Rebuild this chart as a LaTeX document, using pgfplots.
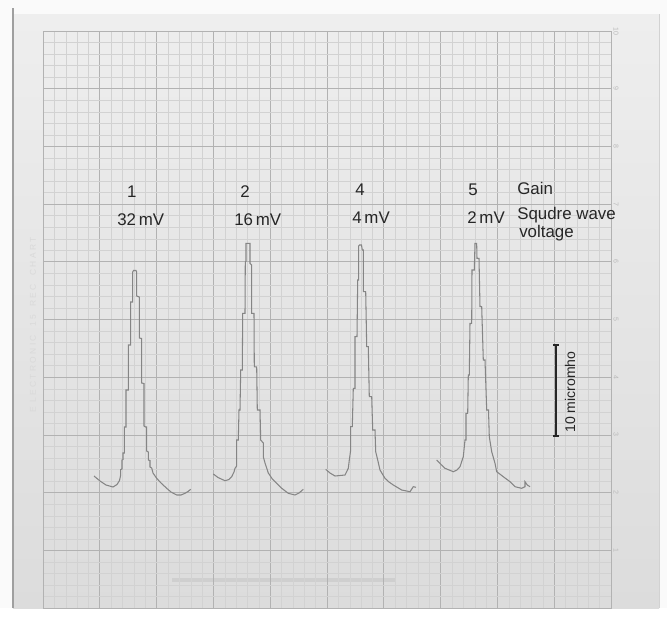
\documentclass[border=0pt]{standalone}
\usepackage{fontspec}
\setmainfont{Liberation Sans}
\usepackage{pgfplots}
\pgfplotsset{compat=1.18}
\definecolor{majorgrid}{HTML}{B2B2B2}
\definecolor{minorgrid}{HTML}{D2D2D2}
\definecolor{trace}{HTML}{858585}
\definecolor{ink}{HTML}{262626}
\definecolor{papertop}{HTML}{EEEEEE}
\definecolor{paperbot}{HTML}{DCDCDC}
\pgfplotsset{common/.style={
  scale only axis, width=14.2cm, height=14.425cm,
  xmin=43, xmax=611, ymin=31, ymax=608, y dir=reverse,
  clip=false}}
\begin{document}
\begin{tikzpicture}
\begin{axis}[common, hide axis]
\fill[color=white!96!gray] (axis cs:0,0) rectangle (axis cs:667,608);
\shade[top color=papertop, bottom color=paperbot] (axis cs:13,14) rectangle (axis cs:659,608);
\draw[gray!75, line width=0.8pt] (axis cs:13,8) -- (axis cs:13,608);
\draw[gray!35, line width=0.5pt] (axis cs:659,14) -- (axis cs:659,608);
\draw[gray!45, line width=3pt, opacity=0.6] (axis cs:172,580) -- (axis cs:395,580);
\end{axis}
\begin{axis}[
  common,
  xtick={43,99.8,156.6,213.4,270.2,327,383.8,440.6,497.4,554.2,611},
  ytick={31,88.7,146.4,204.1,261.8,319.5,377.2,434.9,492.6,550.3,608},
  minor tick num=4,
  grid=both,
  major grid style={draw=majorgrid, line width=0.5pt},
  minor grid style={draw=minorgrid, line width=0.25pt},
  xticklabels={}, yticklabels={}, tick style={draw=none},
  axis line style={draw=majorgrid, line width=0.6pt},
]
% peak 1
\addplot[trace, line width=0.75pt] coordinates {
(94,476) (100,481) (106,485) (113,487) (117,484.5) (119.5,480.5) (120.7,475) (120.7,469.5) (122,469) (122,460) (123,459.5) (123,453) (124.3,453) (124.3,427) (126,427) (126,390) (128.3,390) (128.3,345) (130.7,345) (130.7,302) (132.7,302) (132.7,272) (133.5,270.5) (136,270.5) (136.7,272) (136.7,296) (139.3,297) (139.3,338) (141.7,338.5) (141.7,383) (144,383.5) (144,426) (145.5,427) (146.7,427) (146.7,451) (148.3,452) (148.3,460) (150,460.5) (150,467) (151.7,468) (153,473) (156.7,478.3) (161,483) (166.7,488.3) (171,492) (176.7,495) (181,495) (185,493.3) (188,491.5) (190.7,489.3)
};
% peak 2
\addplot[trace, line width=0.75pt] coordinates {
(213.3,474) (218,477.5) (225,480.7) (229,479.5) (231.7,476.7) (234,472) (235,468.3) (236.7,466) (236.7,440) (238.3,440) (239,410) (240,410) (240.7,370) (242.3,370) (242.7,313.3) (245,313.3) (245.3,261.7) (246,261) (246,243.3) (250,243.3) (250,263.3) (251.7,265) (251.7,313.3) (254,313.3) (254.3,366.7) (256.7,367) (257.3,410) (260,410) (260.7,440) (263.3,443) (263.3,456.7) (265,463) (268.3,473) (272,478.5) (276.7,483.3) (282,488.5) (288.3,493.3) (295,495) (299,493) (303.3,489.3)
};
% peak 3
\addplot[trace, line width=0.75pt] coordinates {
(325.7,469.3) (330,473) (335,476) (340,475.5) (345,475) (348.3,468.3) (349.3,460) (350.7,450) (350.7,426.7) (352.3,426.7) (353.3,388.3) (355,388.3) (355,336.7) (357,336.7) (357.7,280) (358.7,280) (358.7,246) (359.5,245) (361.5,245) (362.3,250) (363.3,250) (363.3,291.7) (365.7,291.7) (366.7,346.7) (368.3,346.7) (369.3,396.7) (371.7,396.7) (372.7,430) (375,430) (375.7,451.7) (377.7,460) (380,470) (385,478.3) (389,482) (393.3,485) (401.7,490) (410,491.7) (413.3,486.7) (416,487.3)
};
% peak 4
\addplot[trace, line width=0.75pt] coordinates {
(436.7,460) (441,464.5) (445,468.3) (453.3,471.7) (457,470) (460,466.7) (463.3,456.7) (465,440) (466,440) (466,413.3) (467.7,413.3) (468.3,375) (469.3,375) (470,323.3) (471.7,323.3) (472,270) (474.3,270) (475,243.3) (476.7,243.3) (476.7,245) (477,258.3) (479,258.3) (480,306.7) (481.7,306.7) (483.3,360) (485,360) (486.7,410) (488.5,410) (489.3,436.7) (491.7,451.7) (495,463.3) (496.7,471.7) (503.3,476.7) (510,481.7) (515,486.7) (521.7,488.3) (525,486.7) (525,481.7) (527.3,485) (530,486.7)
};
% scale bar
\addplot[ink, line width=0.8pt] coordinates {(556,345) (556,436)};
\addplot[ink, line width=0.8pt] coordinates {(553,345) (559,345)};
\addplot[ink, line width=0.8pt] coordinates {(553,436) (559,436)};

\begin{scope}[every node/.style={text=ink, font=\fontsize{12}{14}\selectfont, inner sep=0pt}]
\node at (axis cs:131.7,191.7) {1};
\node[anchor=west] at (axis cs:117,220) {32\,mV};
\node at (axis cs:245,191.7) {2};
\node[anchor=west] at (axis cs:234,220) {16\,mV};
\node at (axis cs:360,190) {4};
\node[anchor=west] at (axis cs:352,218) {4\,mV};
\node at (axis cs:473,190) {5};
\node[anchor=west] at (axis cs:467,218) {2\,mV};
\node[anchor=west] at (axis cs:517,188) {Gain};
\node[anchor=west] at (axis cs:517,215) {Squdre wave};
\node[anchor=west] at (axis cs:519,233) {voltage};
\node[rotate=90, font=\fontsize{10}{12}\selectfont] at (axis cs:570,392) {10 micromho};
\end{scope}

\begin{scope}[every node/.style={text=gray!55, font=\fontsize{5}{6}\selectfont, inner sep=0pt, rotate=-90}]
\node at (axis cs:616,31) {10};
\node at (axis cs:616,88.7) {9};
\node at (axis cs:616,146.4) {8};
\node at (axis cs:616,204.1) {7};
\node at (axis cs:616,261.8) {6};
\node at (axis cs:616,319.5) {5};
\node at (axis cs:616,377.2) {4};
\node at (axis cs:616,434.9) {3};
\node at (axis cs:616,492.6) {2};
\node at (axis cs:616,550.3) {1};
\end{scope}
\node[rotate=90, text=gray!30, font=\fontsize{6}{7}\selectfont, inner sep=0pt] at (axis cs:33,325) {E\ \ L\ E\ C\ T\ R\ O\ N\ I\ C\quad 1\ 5\quad R\ E\ C\quad C\ H\ A\ R\ T};
\end{axis}
\end{tikzpicture}
\end{document}
